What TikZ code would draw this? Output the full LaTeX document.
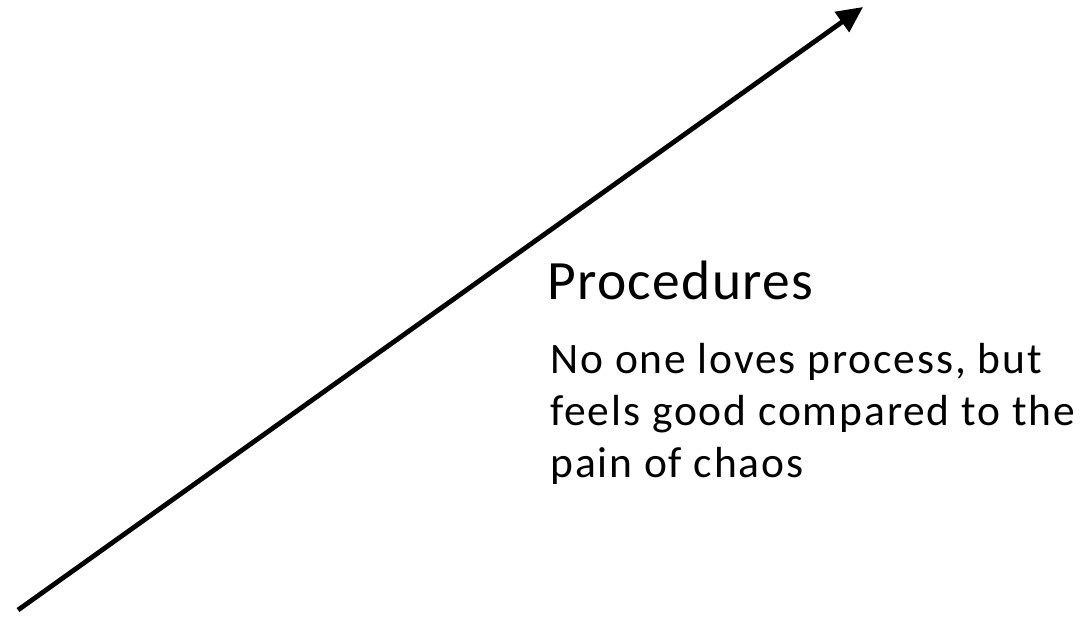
\documentclass[tikz,border=0pt]{standalone}
\usepackage{fontspec}
\setmainfont{Carlito}
\usetikzlibrary{arrows.meta}
\tikzset{
  trend/.style={line width=2.4pt,-{Triangle[length=13pt,width=12pt]}},
  heading/.style={anchor=base west,inner sep=0pt,font=\fontsize{27.75pt}{32pt}\selectfont\addfontfeature{LetterSpace=2.5}},
  bodytext/.style={anchor=north west,inner sep=0pt,align=left,font=\fontsize{21.75pt}{26pt}\selectfont\addfontfeature{LetterSpace=4.3}}
}
\begin{document}
\begin{tikzpicture}[x=0.5pt,y=-0.5pt]
\useasboundingbox (0,0) rectangle (1091,618);
\coordinate (tail) at (18,610);
\coordinate (tip) at (863,7);
\draw[trend] (tail) -- (tip);
\node[heading] (title) at (547,299) {Procedures};
\node[bodytext] (desc) at (550,343) {No one loves process, but\\feels good compared to the\\pain of chaos};
\end{tikzpicture}
\end{document}
